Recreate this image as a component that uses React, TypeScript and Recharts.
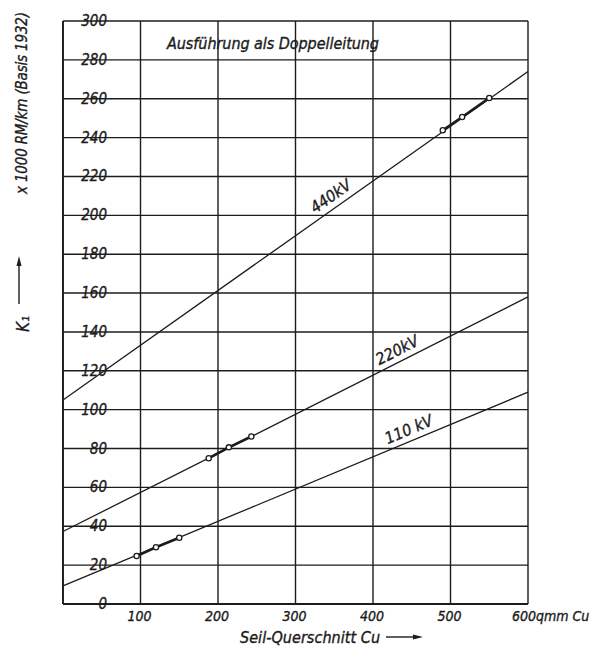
import React from 'react';
import { LineChart, Line, XAxis, YAxis, CartesianGrid, ReferenceDot } from 'recharts';

// cross-section in qmm Cu
const xEnds = [0, 600];
const k110Ends = [9.3, 109];
const k220Ends = [37.3, 158];
const k440Ends = [105, 274];

// marked cable sizes on each curve
const cs110 = [95, 120, 150];
const k110Marks = [24.7, 29.2, 34.1];
const cs220 = [188, 214, 243];
const k220Marks = [75, 80.6, 86.2];
const cs440 = [490, 515, 550];
const k440Marks = [243.8, 250.6, 260.4];

const xTicks = [0, 100, 200, 300, 400, 500, 600];
const yTicks = [0, 20, 40, 60, 80, 100, 120, 140, 160, 180, 200, 220, 240, 260, 280, 300];

const lineLabels = [
  { text: '440kV', x: 354, y: 205, angle: -35 },
  { text: '220kV', x: 438, y: 125.4, angle: -27 },
  { text: '110 kV', x: 452, y: 84.4, angle: -23 },
];

const toRows = (xs: number[], ys: number[]) => xs.map((x, i) => ({ x, y: ys[i] }));

const FONT = "'DejaVu Sans Condensed', 'DejaVu Sans', sans-serif";
const INK = '#1c1c1c';
const txt = { fontFamily: FONT, fontStyle: 'italic', fill: INK, stroke: INK, strokeWidth: 0.35 } as const;

const YTick = ({ x, y, payload }: any) => (
  <text x={x + 52} y={y} dy={5} textAnchor="end" fontSize={15} {...txt}>
    {payload.value}
  </text>
);

const XTick = ({ x, y, payload }: any) => {
  if (payload.value === 0) return null;
  if (payload.value === 600) {
    return (
      <text x={x - 16} y={y} dy={9} textAnchor="start" fontSize={14} {...txt}>
        600qmm Cu
      </text>
    );
  }
  return (
    <text x={x - 1} y={y} dy={9} textAnchor="middle" fontSize={14} {...txt}>
      {payload.value}
    </text>
  );
};

const markDot = (props: any) => (
  <circle key={props.index} cx={props.cx} cy={props.cy} r={2.6} fill="#fff" stroke={INK} strokeWidth={1.3} />
);

export default function App() {
  return (
    <div style={{ position: 'absolute', left: 0, top: 0, width: 601, height: 653, background: '#fff' }}>
      <LineChart width={601} height={653} margin={{ top: 21, right: 73, left: 13, bottom: 19 }}>
        <CartesianGrid stroke={INK} strokeWidth={1.4} />
        <XAxis
          type="number"
          dataKey="x"
          domain={[0, 600]}
          ticks={xTicks}
          height={30}
          tickLine={false}
          axisLine={{ stroke: INK, strokeWidth: 1.8 }}
          tick={<XTick />}
          interval={0}
        />
        <YAxis
          type="number"
          dataKey="y"
          domain={[0, 300]}
          ticks={yTicks}
          width={50}
          tickLine={false}
          axisLine={{ stroke: INK, strokeWidth: 1.8 }}
          tick={<YTick />}
          interval={0}
        />
        <Line data={toRows(xEnds, k110Ends)} dataKey="y" type="linear" stroke={INK} strokeWidth={1.3} dot={false} isAnimationActive={false} />
        <Line data={toRows(xEnds, k220Ends)} dataKey="y" type="linear" stroke={INK} strokeWidth={1.3} dot={false} isAnimationActive={false} />
        <Line data={toRows(xEnds, k440Ends)} dataKey="y" type="linear" stroke={INK} strokeWidth={1.3} dot={false} isAnimationActive={false} />
        <Line data={toRows(cs110, k110Marks)} dataKey="y" type="linear" stroke={INK} strokeWidth={2.6} dot={markDot} isAnimationActive={false} />
        <Line data={toRows(cs220, k220Marks)} dataKey="y" type="linear" stroke={INK} strokeWidth={2.6} dot={markDot} isAnimationActive={false} />
        <Line data={toRows(cs440, k440Marks)} dataKey="y" type="linear" stroke={INK} strokeWidth={2.6} dot={markDot} isAnimationActive={false} />
        {lineLabels.map((l) => (
          <ReferenceDot
            key={l.text}
            x={l.x}
            y={l.y}
            r={0}
            fill="none"
            stroke="none"
            label={{
              content: ({ viewBox }: any) => {
                const cx = viewBox.x + viewBox.width / 2;
                const cy = viewBox.y + viewBox.height / 2;
                return (
                  <text
                    x={cx}
                    y={cy}
                    dy={-6}
                    textAnchor="middle"
                    transform={`rotate(${l.angle} ${cx} ${cy})`}
                    fontSize={16}
                    {...txt}
                  >
                    {l.text}
                  </text>
                );
              },
            }}
          />
        ))}
        <text x={273} y={49} textAnchor="middle" fontSize={16} textLength={212} {...txt}>
          Ausführung als Doppelleitung
        </text>
        <text x={27} y={103} textAnchor="middle" transform="rotate(-90 27 103)" fontSize={15} textLength={182} {...txt}>
          x 1000 RM/km (Basis 1932)
        </text>
        <text x={29} y={324} textAnchor="middle" transform="rotate(-90 29 324)" fontSize={17} {...txt}>
          K₁
        </text>
        <line x1={19} y1={304} x2={19} y2={262} stroke={INK} strokeWidth={1.4} />
        <path d="M19 256 L16.5 266 L21.5 266 Z" fill={INK} />
        <text x={240} y={643} textAnchor="start" fontSize={16} textLength={140} {...txt}>
          Seil-Querschnitt Cu
        </text>
        <line x1={386} y1={637} x2={416} y2={637} stroke={INK} strokeWidth={1.4} />
        <path d="M423 637 L413 634.5 L413 639.5 Z" fill={INK} />
      </LineChart>
    </div>
  );
}
